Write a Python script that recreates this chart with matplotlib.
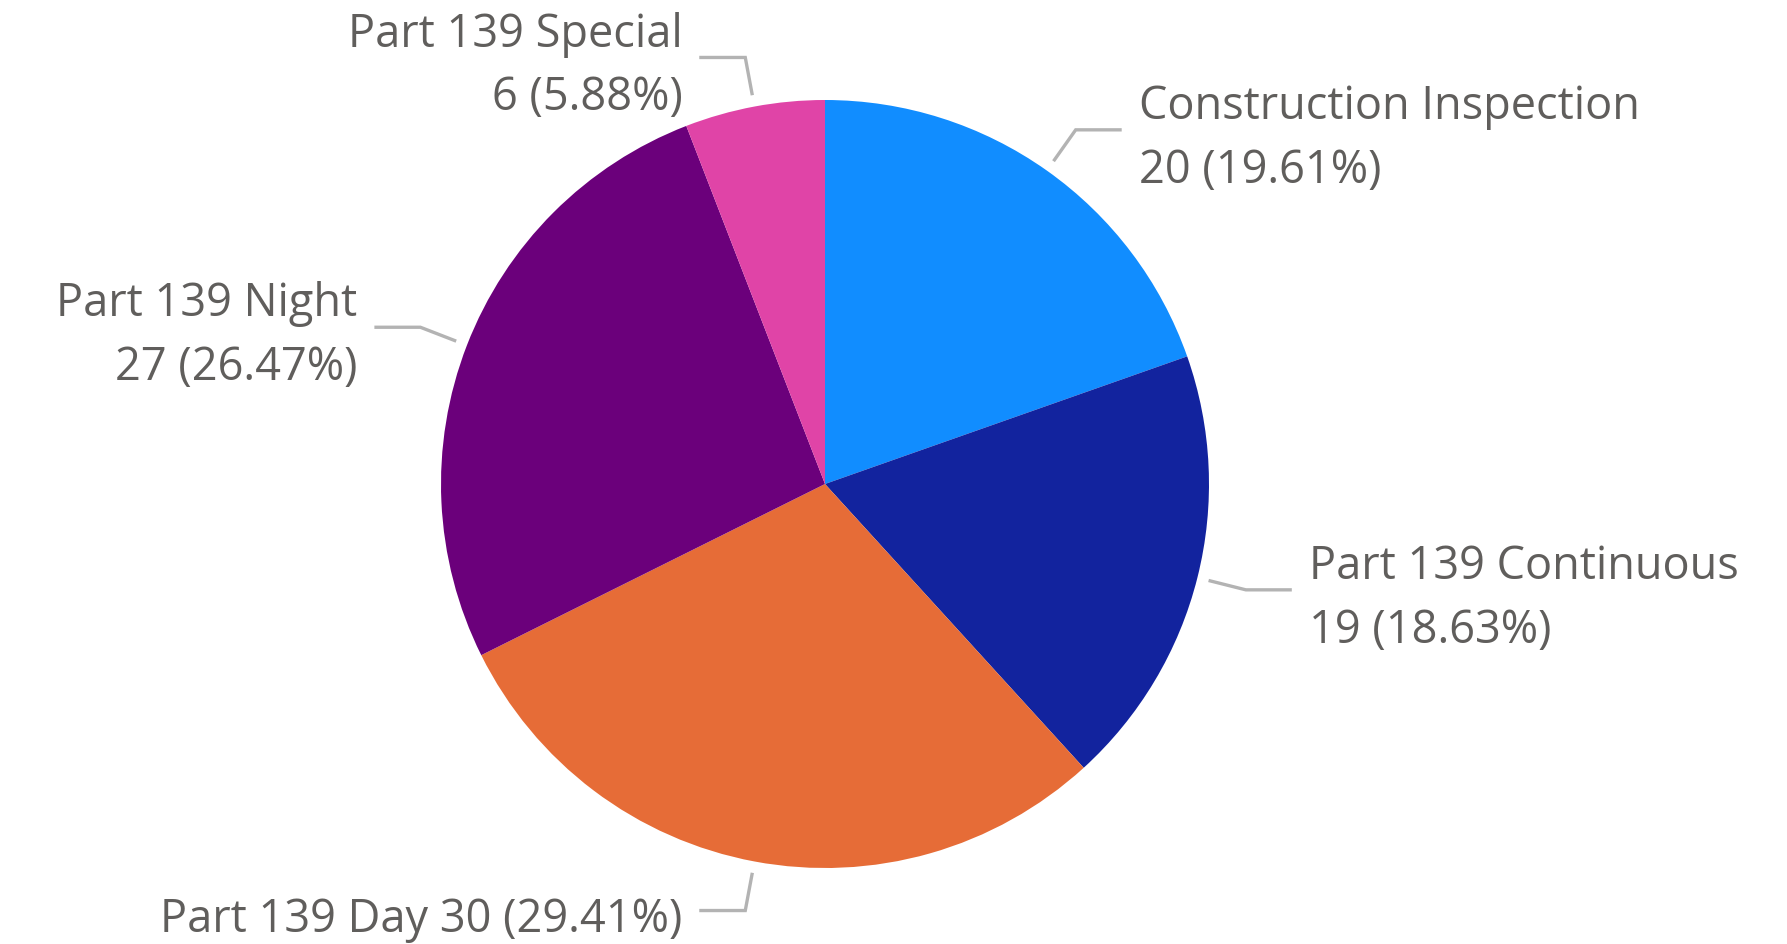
import numpy as np
import matplotlib.pyplot as plt
import matplotlib

matplotlib.rcParams['font.family'] = ['Open Sans', 'DejaVu Sans']

# --- data ---
labels = ['Construction Inspection', 'Part 139 Continuous', 'Part 139 Day',
          'Part 139 Night', 'Part 139 Special']
values = [20, 19, 30, 27, 6]
colors = ['#118DFF', '#12239E', '#E66C37', '#6B007B', '#E044A7']
one_line = ['Part 139 Day']  # label squeezed onto a single line

W, H = 1787, 944
fig = plt.figure(figsize=(W / 100, H / 100), dpi=100)
ax = fig.add_axes([0, 0, 1, 1])

cx, cy, R = 825, 460, 384
wedges, _ = ax.pie(values, colors=colors, startangle=90, counterclock=False,
                   center=(cx, cy), radius=R, frame=True,
                   wedgeprops=dict(linewidth=0))
ax.set_xlim(0, W)
ax.set_ylim(0, H)
ax.set_aspect('equal')
ax.axis('off')

total = sum(values)
text_color = '#605E5C'
line_color = '#B3B3B3'
for i, w in enumerate(wedges):
    ang = np.deg2rad((w.theta1 + w.theta2) / 2)
    x0, y0 = cx + 1.03 * R * np.cos(ang), cy + 1.03 * R * np.sin(ang)
    x1, y1 = cx + 1.13 * R * np.cos(ang), cy + 1.13 * R * np.sin(ang)
    side = 1 if np.cos(ang) >= 0 else -1
    x2 = x1 + side * 46
    ax.plot([x0, x1, x2], [y0, y1, y1], color=line_color, lw=2.4,
            solid_capstyle='butt', solid_joinstyle='miter')
    pct = values[i] / total * 100
    sep = ' ' if labels[i] in one_line else '\n'
    txt = f'{labels[i]}{sep}{values[i]} ({pct:.2f}%)'
    ax.text(x2 + side * 17, y1 - 9, txt, ha='left' if side > 0 else 'right',
            va='center', color=text_color, fontsize=32.5, linespacing=1.5,
            multialignment='left' if side > 0 else 'right')

fig.savefig('out.png', dpi=100, facecolor='white')
